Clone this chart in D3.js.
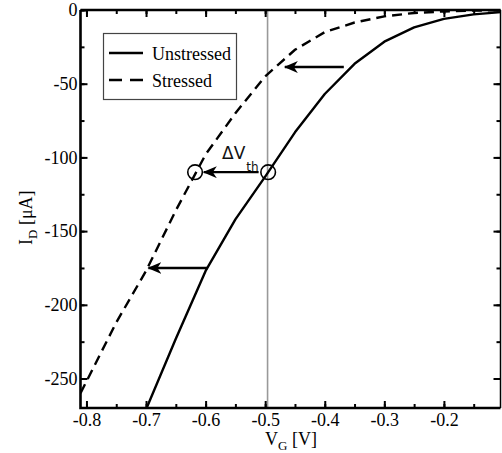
<!DOCTYPE html>
<html><head><meta charset="utf-8">
<script src="https://cdn.jsdelivr.net/npm/d3@7"></script>
<style>body{margin:0;background:#fff}svg{display:block}</style>
</head><body>
<svg id="c" width="502" height="453" font-family="'Liberation Serif', serif"></svg>
<script>
const vgUnstressed = [-0.75, -0.7, -0.65, -0.6, -0.55, -0.5, -0.45, -0.4, -0.35, -0.3, -0.25, -0.2, -0.15, -0.1];
const idUnstressed = [-318, -271, -223, -177, -142, -113, -83, -57, -36.5, -21.5, -11.8, -6, -3, -1.3];
const vgStressed = [-0.81, -0.8, -0.75, -0.7, -0.65, -0.6, -0.55, -0.5, -0.45, -0.4, -0.35, -0.3, -0.25, -0.2, -0.15, -0.1];
const idStressed = [-260, -252, -212, -177, -136, -98, -70, -45, -27, -15, -8.5, -4.3, -2, -1, -0.4, -0.1];
const xTicks = [-0.8, -0.7, -0.6, -0.5, -0.4, -0.3, -0.2];
const yTicks = [0, -50, -100, -150, -200, -250];
const seriesNames = ["Unstressed", "Stressed"];
const markerX = -0.496;
const circlePts = [{x: -0.6177, y: -110}, {x: -0.495, y: -110}];
const arrows = [{x1: -0.368, x2: -0.467, y: -38.7}, {x1: -0.511, x2: -0.603, y: -110}, {x1: -0.597, x2: -0.696, y: -175}];

const svg = d3.select("#c");
const L = 80.5, R = 500.5, T = 10, B = 408;
const x = d3.scaleLinear().domain([-0.81, -0.105]).range([L, R]);
const y = d3.scaleLinear().domain([-270, 0]).range([B, T]);
const serif = "'Liberation Serif', serif";
const fmtX = v => d3.format(".1f")(v).replace("\u2212", "-");
const fmtY = v => d3.format("d")(v).replace("\u2212", "-");

svg.append("defs").append("clipPath").attr("id", "clip")
  .append("rect").attr("x", L).attr("y", T).attr("width", R - L).attr("height", B - T);
const mk = svg.select("defs").append("marker").attr("id", "ah")
  .attr("viewBox", "0 0 14 12").attr("refX", 13).attr("refY", 6)
  .attr("markerWidth", 14).attr("markerHeight", 12).attr("markerUnits", "userSpaceOnUse").attr("orient", "auto");
mk.append("path").attr("d", "M0,0 L14,6 L0,12 L4,6 Z").attr("fill", "#000");

// gray vertical line
svg.append("line").attr("x1", x(markerX)).attr("x2", x(markerX)).attr("y1", T).attr("y2", B)
  .attr("stroke", "#999").attr("stroke-width", 1.6);

// axes with inward ticks
const minorX = d3.range(-0.8, -0.1, 0.05).map(v => +v.toFixed(3));
const minorY = d3.range(0, -275, -25);
function axisG(axis, tx, ty) {
  const g = svg.append("g").attr("transform", `translate(${tx},${ty})`).call(axis);
  g.attr("font-family", serif);
  g.select(".domain").remove();
  g.selectAll("line").attr("stroke", "#000").attr("stroke-width", 2);
  g.selectAll("text").attr("font-family", serif).attr("font-size", 18).attr("fill", "#000");
  return g;
}
// bottom
axisG(d3.axisTop(x).tickValues(minorX).tickSize(4).tickFormat(""), 0, B);
const gb = axisG(d3.axisTop(x).tickValues(xTicks).tickSize(7).tickFormat(fmtX), 0, B);
gb.selectAll("text").attr("dy", 0).attr("y", 18);
// top
axisG(d3.axisBottom(x).tickValues(minorX).tickSize(4).tickFormat(""), 0, T);
axisG(d3.axisBottom(x).tickValues(xTicks).tickSize(7).tickFormat(""), 0, T);
// left
axisG(d3.axisRight(y).tickValues(minorY).tickSize(4).tickFormat(""), L, 0);
const gl = axisG(d3.axisRight(y).tickValues(yTicks).tickSize(7).tickFormat(fmtY), L, 0);
gl.selectAll("text").attr("x", -3).attr("text-anchor", "end");
// right
axisG(d3.axisLeft(y).tickValues(minorY).tickSize(4).tickFormat(""), R, 0);
axisG(d3.axisLeft(y).tickValues(yTicks).tickSize(7).tickFormat(""), R, 0);

// frame
svg.append("path").attr("d", `M${L},${T} L${L},${B} L${R},${B}`).attr("fill", "none").attr("stroke", "#000").attr("stroke-width", 2.6);
svg.append("line").attr("x1", L).attr("x2", R).attr("y1", T).attr("y2", T).attr("stroke", "#000").attr("stroke-width", 2.6);
svg.append("line").attr("x1", R).attr("x2", R).attr("y1", T).attr("y2", B).attr("stroke", "#000").attr("stroke-width", 1.5);

// curves
const line = d3.line().x(d => x(d[0])).y(d => y(d[1]));
const cg = svg.append("g").attr("clip-path", "url(#clip)");
cg.append("path").datum(d3.zip(vgUnstressed, idUnstressed)).attr("d", line)
  .attr("fill", "none").attr("stroke", "#000").attr("stroke-width", 2.4).attr("stroke-linejoin", "round");
cg.append("path").datum(d3.zip(vgStressed, idStressed)).attr("d", line)
  .attr("fill", "none").attr("stroke", "#000").attr("stroke-width", 2.4).attr("stroke-dasharray", "10,6");

// circles
svg.selectAll("circle.m").data(circlePts).join("circle").attr("class", "m")
  .attr("cx", d => x(d.x)).attr("cy", d => y(d.y)).attr("r", 7.3)
  .attr("fill", "none").attr("stroke", "#000").attr("stroke-width", 1.6);

// arrows
svg.selectAll("line.ar").data(arrows).join("line").attr("class", "ar")
  .attr("x1", d => x(d.x1)).attr("x2", d => x(d.x2)).attr("y1", d => y(d.y)).attr("y2", d => y(d.y))
  .attr("stroke", "#000").attr("stroke-width", 2.4).attr("marker-end", "url(#ah)");

// ΔVth label
const dv = svg.append("text").attr("x", 222).attr("y", 159)
  .attr("font-family", "'DejaVu Sans', sans-serif").attr("font-size", 17).attr("fill", "#111");
dv.append("tspan").text("ΔV");
dv.append("tspan").attr("font-size", 12).attr("dy", 12).attr("dx", 1).text("th");

// legend
svg.append("rect").attr("x", 103.5).attr("y", 33.5).attr("width", 133).attr("height", 66)
  .attr("fill", "#fff").attr("stroke", "#444").attr("stroke-width", 1.2);
const ly = [53, 80];
seriesNames.forEach((n, i) => {
  svg.append("line").attr("x1", 109).attr("x2", 143).attr("y1", ly[i]).attr("y2", ly[i])
    .attr("stroke", "#000").attr("stroke-width", 2.4).attr("stroke-dasharray", i ? "13,8" : null);
  svg.append("text").attr("x", 152).attr("y", ly[i] + 6.5).attr("font-family", serif)
    .attr("font-size", 18).attr("fill", "#000").text(n);
});

// axis labels
const xl = svg.append("text").attr("x", 265).attr("y", 445).attr("font-family", serif).attr("font-size", 18);
xl.append("tspan").text("V");
xl.append("tspan").attr("font-size", 13).attr("dy", 5).text("G");
xl.append("tspan").attr("dy", -5).text(" [V]");
const yl = svg.append("text").attr("transform", "translate(32,245) rotate(-90)").attr("font-family", serif).attr("font-size", 18);
yl.append("tspan").text("I");
yl.append("tspan").attr("font-size", 13).attr("dy", 5).text("D");
yl.append("tspan").attr("dy", -5).text(" [μA]");
</script>
</body></html>
